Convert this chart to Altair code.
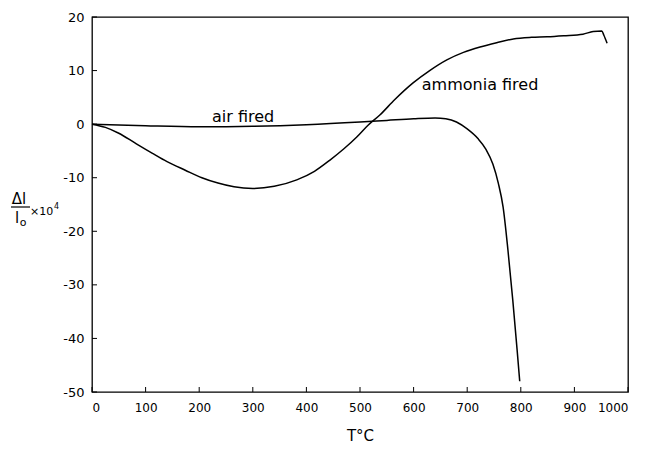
import altair as alt
import pandas as pd

# ammonia fired curve
T_ammonia = [0, 25, 50, 80, 112, 140, 174, 205, 235, 265, 300, 340, 382, 415, 444, 470, 494, 515, 537, 565, 599, 630, 662, 693, 724, 755, 786, 820, 849, 880, 916, 935, 951, 955, 961]
dL_ammonia = [0, -0.6, -1.7, -3.5, -5.4, -7.0, -8.6, -10.0, -11.0, -11.7, -12.0, -11.6, -10.4, -8.8, -6.7, -4.6, -2.4, -0.2, 1.7, 4.6, 7.7, 10.0, 12.0, 13.4, 14.4, 15.2, 15.9, 16.2, 16.3, 16.5, 16.8, 17.3, 17.4, 16.6, 15.1]

# air fired curve
T_air = [0, 100, 200, 300, 400, 500, 550, 600, 640, 660, 680, 700, 720, 735, 748, 758, 767, 776, 785, 793, 798]
dL_air = [0, -0.3, -0.5, -0.4, -0.1, 0.4, 0.7, 1.0, 1.15, 1.0, 0.4, -0.9, -2.7, -4.7, -7.5, -11.0, -15.5, -23.5, -32.8, -42.0, -48.0]

x_ticks = [0, 100, 200, 300, 400, 500, 600, 700, 800, 900, 1000]
y_ticks = [20, 10, 0, -10, -20, -30, -40, -50]

labels = ["air fired", "ammonia fired"]
label_x = [282, 724]
label_y = [1.3, 7.3]

FONT = "DejaVu Sans"
W, H = 536, 375

df_am = pd.DataFrame({"T": T_ammonia, "dL": dL_ammonia, "s": "ammonia fired"})
df_air = pd.DataFrame({"T": T_air, "dL": dL_air, "s": "air fired"})
df = pd.concat([df_am, df_air])

xs = alt.Scale(domain=[0, 1000], nice=False)
ys = alt.Scale(domain=[-50, 20], nice=False)

xaxis = alt.Axis(values=x_ticks, ticks=False, grid=False, domain=False,
                 labelFont=FONT, labelFontSize=12, labelColor="black",
                 labelPadding=10, title="T°C", titleFont=FONT, titleFontSize=15,
                 titleFontWeight="normal", titleColor="black", titlePadding=15,
                 format="d")
yaxis = alt.Axis(values=y_ticks, ticks=False, grid=False, domain=False,
                 labelFont=FONT, labelFontSize=13, labelColor="black",
                 labelPadding=8, title=None, labelExpr="replace(datum.label, '−', '-')")

lines = alt.Chart(df).mark_line(color="black", strokeWidth=1.5, interpolate="monotone").encode(
    x=alt.X("T:Q", scale=xs, axis=xaxis),
    y=alt.Y("dL:Q", scale=ys, axis=yaxis),
    detail="s:N",
)

xt = alt.Chart(pd.DataFrame({"v": x_ticks})).mark_rule(color="black", strokeWidth=1).encode(
    x=alt.X("v:Q", scale=xs), y=alt.value(H), y2=alt.value(H - 5))
yt = alt.Chart(pd.DataFrame({"v": y_ticks})).mark_rule(color="black", strokeWidth=1).encode(
    y=alt.Y("v:Q", scale=ys), x=alt.value(0), x2=alt.value(5))

lab = alt.Chart(pd.DataFrame({"t": labels, "x": label_x, "y": label_y})).mark_text(
    font=FONT, fontSize=16, color="black").encode(
    x=alt.X("x:Q", scale=xs), y=alt.Y("y:Q", scale=ys), text="t:N")

one = pd.DataFrame({"a": [0]})
num = alt.Chart(one).mark_text(text="Δl", font=FONT, fontSize=15, color="black",
                               align="center", baseline="alphabetic").encode(
    x=alt.value(-73), y=alt.value(187))
bar = alt.Chart(one).mark_rule(color="black", strokeWidth=1.2).encode(
    x=alt.value(-81), x2=alt.value(-62), y=alt.value(190))
den = alt.Chart(one).mark_text(text="l", font=FONT, fontSize=15, color="black",
                               align="center", baseline="alphabetic").encode(
    x=alt.value(-75), y=alt.value(206))
sub = alt.Chart(one).mark_text(text="o", font=FONT, fontSize=11, color="black",
                               align="center", baseline="alphabetic").encode(
    x=alt.value(-69), y=alt.value(209))
times = alt.Chart(one).mark_text(text="×10", font=FONT, fontSize=11, color="black",
                                 align="left", baseline="alphabetic").encode(
    x=alt.value(-62), y=alt.value(198))
sup = alt.Chart(one).mark_text(text="4", font=FONT, fontSize=8, color="black",
                               align="left", baseline="alphabetic").encode(
    x=alt.value(-38), y=alt.value(192))

chart = alt.layer(lines, xt, yt, lab, num, bar, den, sub, times, sup).properties(
    width=W, height=H,
    autosize=alt.AutoSizeParams(type="none"),
    padding={"left": 92, "top": 17, "right": 19, "bottom": 59},
    background="white",
).configure_view(stroke="black", strokeWidth=1.3)

chart.save("out.html", embed_options={"renderer": "svg", "actions": False})
